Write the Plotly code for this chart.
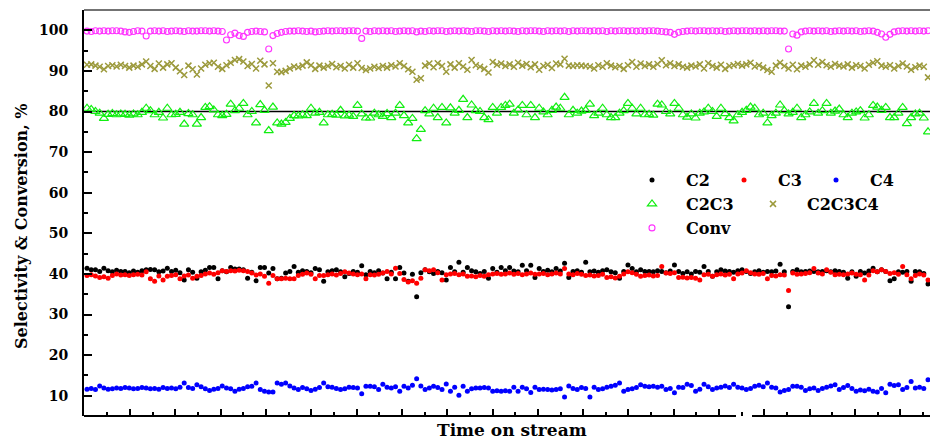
import plotly.graph_objects as go

conv = [
    99.8, 99.7, 99.9, 99.8, 99.9, 99.8, 99.9, 99.9, 99.8, 99.6, 99.5, 99.7, 99.9, 99.8, 98.6, 99.8, 99.9, 99.8, 99.9, 99.7,
    99.8, 99.9, 99.8, 99.7, 99.9, 99.8, 99.8, 99.9, 99.9, 99.8, 99.9, 99.8, 99.7, 97.6, 98.9, 99.3, 98.7, 98.5, 99.5, 99.7,
    99.8, 99.7, 99.6, 95.4, 98.7, 99.2, 99.5, 99.7, 99.8, 99.8, 99.9, 99.8, 99.7, 99.8, 99.6, 99.7, 99.8, 99.9, 99.8, 99.9,
    99.9, 99.8, 99.9, 99.9, 99.8, 98.0, 99.8, 99.7, 99.9, 99.8, 99.9, 99.8, 99.9, 99.7, 99.8, 99.9, 99.8, 99.9, 99.6, 99.8,
    99.7, 99.9, 99.8, 99.9, 99.9, 99.7, 99.8, 99.9, 99.8, 99.9, 99.8, 99.7, 99.9, 99.9, 99.8, 99.7, 99.9, 99.8, 99.9, 99.8,
    99.9, 99.8, 99.7, 99.9, 99.8, 99.9, 99.9, 99.8, 99.7, 99.9, 99.8, 99.9, 99.8, 99.9, 99.7, 99.9, 99.8, 99.9, 99.9, 99.8,
    99.9, 99.8, 99.9, 99.7, 99.9, 99.8, 99.9, 99.9, 99.8, 99.9, 99.8, 99.9, 99.8, 99.9, 99.9, 99.8, 99.7, 99.6, 99.5, 99.0,
    99.5, 99.7, 99.8, 99.9, 99.8, 99.9, 99.9, 99.8, 99.9, 99.8, 99.9, 99.7, 99.8, 99.9, 99.8, 99.9, 99.9, 99.8, 99.9, 99.8,
    99.9, 99.8, 99.9, 99.9, 99.8, 99.8, 95.4, 99.1, 98.8, 99.6, 99.8, 99.9, 99.8, 99.9, 99.8, 99.9, 99.7, 99.8, 99.9, 99.8,
    99.9, 99.8, 99.9, 99.7, 99.8, 99.9, 99.8, 99.5, 99.1, 98.3, 99.0, 99.6, 99.8, 99.9, 99.8, 99.9, 99.8, 99.9, 99.8, 99.9,
]

c2c3c4 = [
    91.5, 91.6, 91.3, 91.0, 90.4, 91.2, 91.4, 91.1, 91.5, 91.2, 90.8, 91.3, 91.0, 91.6, 92.3, 91.2, 90.5, 91.8, 90.8, 91.6,
    91.9, 90.8, 89.9, 89.0, 91.3, 90.4, 89.1, 90.6, 91.5, 91.9, 92.0, 91.0, 90.5, 91.4, 92.0, 92.7, 92.9, 92.3, 91.2, 91.7,
    90.6, 92.5, 91.6, 86.4, 91.9, 89.8, 89.7, 90.0, 90.6, 91.1, 90.9, 91.3, 92.1, 91.4, 90.5, 91.3, 90.8, 91.2, 91.7, 90.9,
    91.2, 90.6, 91.5, 90.8, 91.9, 90.7, 90.2, 90.6, 91.0, 90.7, 91.2, 90.8, 91.4, 91.1, 91.9, 91.2, 90.4, 89.8, 87.8, 88.2,
    91.3, 91.8, 90.9, 91.9, 91.2, 89.8, 91.6, 90.8, 91.9, 91.1, 90.3, 92.7, 91.4, 91.0, 90.5, 89.6, 92.2, 91.5, 91.8, 91.2,
    91.6, 91.0, 92.0, 91.3, 91.7, 90.9, 91.6, 90.3, 91.2, 91.5, 90.7, 91.8, 91.6, 93.0, 91.3, 91.2, 91.4, 91.3, 91.2, 91.1,
    90.6, 91.4, 91.0, 91.9, 91.3, 90.9, 91.2, 90.5, 91.4, 92.2, 91.0, 91.8, 91.2, 91.6, 91.0, 91.7, 92.6, 91.4, 91.9, 91.2,
    91.6, 91.0, 90.8, 91.3, 91.1, 91.6, 90.6, 91.9, 91.2, 90.8, 91.5, 90.5, 91.2, 91.4, 91.7, 91.3, 91.6, 92.0, 91.1, 91.4,
    90.8, 90.2, 89.8, 91.3, 92.0, 91.2, 90.6, 91.5, 90.4, 91.3, 91.0, 91.6, 92.6, 91.5, 92.2, 91.4, 91.0, 91.7, 91.3, 91.1,
    91.6, 90.8, 91.4, 91.2, 90.6, 91.5, 92.0, 92.4, 91.3, 91.0, 91.4, 90.6, 91.2, 91.8, 91.1, 90.3, 90.9, 91.3, 91.0, 88.4,
]

c2c3 = [
    80.8, 80.5, 80.0, 79.6, 78.3, 79.3, 79.5, 79.2, 79.4, 79.3, 79.1, 79.4, 79.2, 79.8, 80.8, 80.2, 79.2, 79.8, 78.4, 80.8,
    79.2, 79.3, 79.8, 76.9, 79.5, 79.2, 76.9, 78.5, 81.0, 81.2, 80.4, 79.2, 79.0, 79.3, 81.8, 80.2, 80.8, 82.0, 79.2, 80.0,
    77.2, 81.7, 80.3, 75.3, 81.1, 77.2, 76.9, 77.3, 78.3, 79.0, 78.9, 79.2, 79.0, 80.8, 79.6, 79.8, 77.2, 79.2, 79.3, 79.1,
    80.3, 78.9, 79.1, 78.8, 81.5, 79.4, 78.4, 78.4, 79.6, 79.2, 78.8, 79.5, 78.5, 79.6, 81.5, 79.0, 77.2, 78.3, 73.3, 75.6,
    80.2, 79.4, 80.8, 78.5, 81.0, 77.2, 80.9, 79.6, 80.3, 83.0, 78.5, 81.6, 80.2, 80.0, 78.5, 78.0, 81.0, 79.6, 81.0, 81.5,
    81.8, 79.6, 80.4, 81.5, 79.2, 81.5, 78.5, 80.8, 79.9, 79.2, 80.3, 81.1, 80.8, 83.5, 79.2, 80.3, 79.6, 80.1, 80.3, 81.8,
    79.0, 79.6, 80.8, 79.2, 78.5, 78.5, 79.6, 80.2, 82.0, 80.8, 79.4, 80.8, 79.2, 79.3, 79.1, 81.8, 81.6, 80.0, 79.4, 82.0,
    80.8, 79.2, 78.6, 79.4, 78.4, 79.6, 79.9, 80.8, 80.0, 78.8, 80.8, 79.5, 78.5, 77.7, 79.2, 79.8, 80.3, 81.1, 80.8, 79.2,
    79.6, 77.2, 79.0, 79.6, 81.6, 80.2, 79.4, 79.8, 80.8, 78.5, 79.2, 79.9, 82.0, 79.6, 80.2, 82.0, 79.6, 80.1, 80.6, 79.2,
    78.5, 79.6, 79.9, 80.2, 78.4, 79.2, 81.5, 81.1, 80.3, 81.0, 78.5, 78.5, 79.6, 81.0, 77.0, 78.5, 79.4, 79.6, 78.4, 75.0,
]

c2 = [
    41.4, 41.0, 41.0, 40.6, 41.4, 40.8, 40.5, 40.9, 40.6, 40.6, 40.3, 40.7, 40.4, 40.8, 41.0, 41.1, 41.0, 40.5, 40.7, 41.4,
    40.6, 40.9, 40.3, 38.5, 41.0, 40.4, 38.9, 40.5, 40.9, 41.6, 41.6, 38.8, 40.8, 40.5, 41.6, 41.2, 41.2, 41.0, 38.9, 40.4,
    38.3, 41.6, 41.6, 40.2, 41.3, 38.8, 38.9, 40.2, 40.6, 41.8, 40.4, 40.8, 40.6, 40.3, 41.3, 41.0, 38.2, 40.5, 40.8, 41.0,
    40.5, 39.3, 40.1, 40.6, 40.4, 42.0, 39.8, 40.6, 40.3, 40.8, 40.2, 38.8, 40.4, 38.8, 41.6, 40.2, 38.2, 39.9, 34.4, 40.3,
    41.0, 40.5, 40.1, 40.6, 40.3, 38.5, 41.6, 40.5, 42.9, 40.4, 41.6, 40.8, 40.5, 40.1, 40.6, 38.9, 41.3, 40.4, 41.6, 40.8,
    41.6, 40.7, 40.5, 42.1, 40.8, 42.1, 39.1, 41.3, 40.6, 40.9, 40.5, 41.3, 40.7, 42.6, 39.1, 40.6, 40.8, 40.4, 42.9, 40.5,
    40.7, 40.4, 40.8, 41.0, 40.5, 40.3, 38.9, 40.6, 42.2, 41.3, 40.5, 41.0, 40.6, 40.6, 40.5, 40.8, 40.6, 40.3, 40.7, 42.2,
    40.6, 40.1, 40.5, 40.0, 40.6, 40.4, 41.8, 40.6, 39.4, 40.5, 41.0, 40.7, 40.6, 40.4, 40.8, 41.0, 40.6, 40.1, 40.5, 40.8,
    40.4, 40.6, 40.5, 40.7, 42.4, 40.5, 31.9, 40.6, 41.0, 40.5, 40.6, 40.7, 40.6, 40.5, 40.6, 40.8, 40.5, 40.8, 40.6, 40.4,
    38.9, 40.5, 39.4, 40.6, 40.2, 40.7, 41.4, 40.5, 41.0, 40.6, 38.3, 38.8, 40.5, 40.4, 40.6, 38.2, 40.6, 40.5, 40.1, 37.5,
]

c3 = [
    39.6, 39.8, 39.5, 39.1, 39.3, 38.9, 39.6, 40.0, 39.7, 39.8, 39.6, 39.8, 39.9, 39.7, 40.5, 38.8, 38.2, 39.5, 38.5, 39.4,
    39.6, 39.8, 38.8, 39.5, 39.7, 38.9, 39.4, 39.6, 40.0, 40.2, 39.9, 40.3, 40.8, 40.6, 40.8, 40.7, 40.9, 40.8, 40.6, 40.2,
    39.7, 40.0, 39.4, 37.7, 39.6, 38.8, 38.8, 38.9, 38.8, 38.8, 39.6, 39.9, 40.2, 39.9, 38.8, 39.6, 39.6, 39.8, 40.0, 39.7,
    40.1, 40.5, 40.2, 40.0, 39.8, 40.0, 38.8, 39.8, 39.7, 39.9, 40.2, 40.6, 40.0, 41.4, 40.1, 38.6, 38.0, 38.3, 37.7, 38.9,
    41.0, 40.8, 41.0, 40.3, 38.5, 39.8, 40.0, 40.1, 39.8, 40.0, 39.4, 39.5, 39.3, 39.6, 39.4, 39.8, 40.0, 40.1, 39.9, 40.0,
    40.2, 39.9, 40.1, 39.8, 40.0, 40.2, 39.9, 40.0, 40.1, 39.8, 40.0, 40.2, 40.0, 41.3, 40.0, 39.8, 40.1, 39.9, 39.6, 39.7,
    39.5, 39.6, 39.9, 39.1, 39.3, 39.0, 39.4, 40.0, 40.5, 40.3, 39.9, 39.4, 39.6, 39.7, 39.5, 39.6, 41.8, 40.2, 40.1, 40.3,
    39.1, 39.2, 39.0, 39.1, 38.9, 38.5, 39.8, 39.9, 39.4, 39.8, 40.0, 39.7, 39.9, 38.8, 40.0, 40.2, 40.8, 40.3, 40.0, 39.9,
    40.1, 38.8, 39.6, 39.5, 39.8, 39.7, 35.9, 40.2, 39.9, 40.0, 40.1, 40.3, 41.3, 40.2, 40.0, 41.0, 40.4, 39.8, 39.9, 39.8,
    40.0, 40.2, 39.9, 39.8, 38.5, 39.7, 40.8, 40.5, 41.0, 40.6, 40.1, 40.3, 39.9, 41.8, 39.8, 38.8, 39.6, 40.0, 39.7, 38.5,
]

c4 = [
    11.6, 11.8, 11.5, 12.4, 11.9, 11.6, 11.7, 11.9, 11.8, 12.0, 11.9, 11.7, 11.8, 12.0, 11.9, 11.7, 11.8, 11.6, 12.0, 11.8,
    11.9, 11.7, 12.1, 13.1, 12.0, 11.8, 12.7, 12.2, 11.7, 11.3, 11.6, 11.8, 12.4, 11.9, 11.7, 11.1, 11.6, 11.8, 12.2, 12.3,
    13.1, 11.5, 11.1, 10.9, 10.9, 13.1, 12.8, 13.1, 12.4, 11.9, 11.5, 12.0, 11.7, 11.3, 11.6, 12.0, 13.1, 12.2, 12.1, 11.8,
    11.5, 11.7, 12.1, 12.0, 11.9, 10.5, 12.3, 12.3, 12.2, 11.5, 12.8, 12.1, 11.9, 12.2, 11.1, 12.3, 11.9, 12.6, 14.2, 12.4,
    11.5, 11.9, 12.3, 12.0, 11.5, 12.9, 11.1, 12.1, 10.1, 12.3, 11.1, 11.7, 11.9, 11.9, 12.0, 11.9, 11.1, 11.2, 11.1, 11.2,
    11.1, 12.1, 11.1, 12.1, 11.7, 10.8, 12.1, 11.5, 11.6, 11.5, 11.4, 11.5, 11.7, 9.7, 12.4, 11.8, 11.5, 12.0, 11.8, 9.7,
    12.1, 11.5, 11.7, 12.1, 12.3, 12.6, 13.1, 11.1, 11.5, 11.7, 12.0, 12.7, 12.3, 12.2, 12.3, 12.1, 12.3, 11.5, 11.8, 10.7,
    12.1, 12.0, 12.8, 12.5, 11.1, 11.6, 12.8, 12.2, 11.5, 11.9, 12.1, 12.4, 12.0, 12.8, 12.1, 11.9, 11.5, 11.8, 12.3, 12.6,
    12.2, 13.1, 12.1, 11.9, 10.9, 11.3, 11.5, 12.3, 12.3, 12.1, 11.3, 11.7, 11.9, 11.3, 11.8, 12.1, 12.4, 12.7, 11.5, 12.0,
    12.5, 11.8, 11.1, 11.4, 11.2, 11.6, 11.1, 10.9, 11.8, 10.7, 12.8, 12.5, 12.7, 11.5, 12.0, 13.5, 11.9, 12.1, 11.8, 13.9,
]

t = list(range(len(c2)))

y_ticks = [10, 20, 30, 40, 50, 60, 70, 80, 90, 100]
y_tick_text = [str(v) for v in y_ticks]

FONT = "DejaVu Serif"

W, H = 930, 443
L, R, T, B = 84, 0, 10, 27
pw, ph = W - L - R, H - T - B

def px_x(p):
    return (p - L) / pw

def px_y(p):
    return (H - B - p) / ph

ITEMW = 58
SYM_OFF = ITEMW / 2 + 4  # approx. distance from legend box left to symbol centre

# name, values, marker, legend id, legend symbol position (px)
series = [
    ("C2", c2, dict(symbol="circle", size=5, color="#000000"), "legend", (651, 180)),
    ("C3", c3, dict(symbol="circle", size=5, color="#ff0000"), "legend2", (743, 180)),
    ("C4", c4, dict(symbol="circle", size=5, color="#0000ff"), "legend3", (835, 180)),
    ("C2C3", c2c3, dict(symbol="triangle-up-open", size=8, color="#11ee11",
                        line=dict(width=1.2, color="#11ee11")), "legend4", (651, 204)),
    ("C2C3C4", c2c3c4, dict(symbol="x-thin-open", size=6, color="#9c9a3c",
                            line=dict(width=1.5, color="#9c9a3c")), "legend5", (772, 204)),
    ("Conv", conv, dict(symbol="circle-open", size=6, color="#ff33ff",
                        line=dict(width=1.1, color="#ff33ff")), "legend6", (651, 228)),
]

fig = go.Figure()
for name, vals, mk, lg, _ in series:
    fig.add_trace(go.Scatter(x=t, y=vals, mode="markers", name=name,
                             marker=mk, legend=lg, cliponaxis=False))

legend_font = dict(family=FONT, size=16, color="#000000", weight="bold")
legends = {}
for name, vals, mk, lg, (sx, sy) in series:
    legends[lg] = dict(orientation="h", xanchor="left", yanchor="middle",
                       x=px_x(sx - SYM_OFF), y=px_y(sy),
                       bgcolor="rgba(0,0,0,0)", borderwidth=0, font=legend_font,
                       itemwidth=ITEMW)

fig.update_layout(
    width=W, height=H,
    margin=dict(l=L, r=R, t=T, b=B, pad=0),
    paper_bgcolor="white", plot_bgcolor="white",
    font=dict(family=FONT, color="#000000"),
    xaxis=dict(
        range=[-0.71, 199.47], showgrid=False, zeroline=False, showline=False,
        showticklabels=False, ticks="inside", ticklen=7, tickwidth=1.5,
        tickcolor="#000000", tickmode="linear", tick0=-0.52, dtick=10.72,
        minor=dict(ticks="inside", ticklen=4, tickwidth=1.5, tickcolor="#000000",
                   dtick=5.36, tick0=-0.52, showgrid=False),
    ),
    yaxis=dict(
        range=[5, 105], showgrid=False, zeroline=False, showline=True,
        linecolor="#000000", linewidth=2, mirror=False,
        ticks="inside", ticklen=8, tickwidth=1.5, tickcolor="#000000",
        tickmode="array", tickvals=y_ticks, ticktext=y_tick_text,
        tickfont=dict(family=FONT, size=14, color="#000000", weight="bold"),
        ticklabelstandoff=11,
        minor=dict(ticks="inside", ticklen=4, tickwidth=1.5, tickcolor="#000000",
                   dtick=5, tick0=5, showgrid=False),
    ),
    showlegend=True,
    **legends,
)

# axis frame pieces (bottom axis with a break, top line) and the 80 % reference line
fig.add_shape(type="line", xref="paper", yref="paper", x0=0, x1=px_x(736), y0=0, y1=0,
              line=dict(color="#000000", width=2))
fig.add_shape(type="line", xref="paper", yref="paper", x0=px_x(752), x1=1, y0=0, y1=0,
              line=dict(color="#000000", width=2))
fig.add_shape(type="line", xref="paper", yref="paper", x0=0, x1=1, y0=1, y1=1,
              line=dict(color="#444444", width=1.5))
fig.add_shape(type="line", xref="paper", yref="y", x0=0, x1=1, y0=80, y1=80,
              line=dict(color="#000000", width=1.5), layer="below")

fig.add_annotation(text="Selectivity & Conversion, %", xref="paper", yref="paper",
                   x=px_x(21), y=px_y(226), textangle=-90, showarrow=False,
                   font=dict(family=FONT, size=16, color="#000000", weight="bold"),
                   xanchor="center", yanchor="middle")
fig.add_annotation(text="Time on stream", xref="paper", yref="paper",
                   x=px_x(512), y=px_y(442), showarrow=False,
                   font=dict(family=FONT, size=17, color="#000000", weight="bold"),
                   xanchor="center", yanchor="bottom")

fig.write_html("out.html",
               config={"displayModeBar": False},
               post_script="document.body.style.margin='0';document.body.style.overflow='hidden';")
